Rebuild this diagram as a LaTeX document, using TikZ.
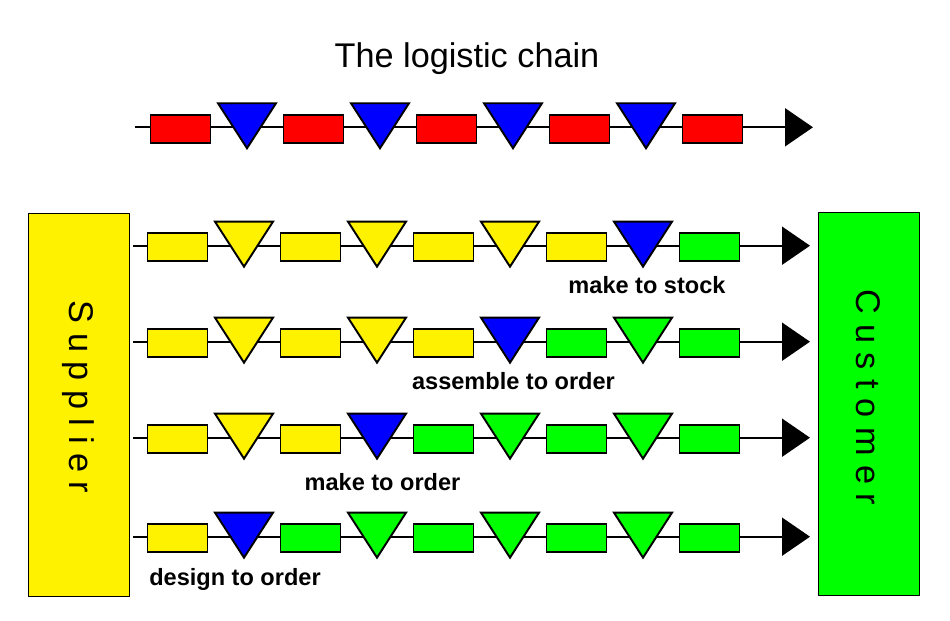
\documentclass[tikz,border=0pt]{standalone}
\usepackage{fontspec}
\setmainfont{Liberation Sans}
\usetikzlibrary{arrows.meta,shapes.geometric}
\tikzset{proc/.style={draw,line width=1.1pt,minimum width=1.2cm,minimum height=.56cm,inner sep=0pt},
 stock/.style={draw,line width=1.1pt,isosceles triangle,isosceles triangle stretches,shape border rotate=270,
  minimum width=1.16cm,minimum height=.9cm,inner sep=0pt,anchor=north},
 wire/.style={line width=1.1pt,-{Triangle[length=.56cm,width=.76cm]}},
 party/.style={draw,line width=.6pt,minimum width=2.02cm,minimum height=7.66cm,inner sep=0pt},
 side/.style={font=\fontsize{19.5}{22}\selectfont,rotate=-90},
 lbl/.style={font=\fontsize{13.4}{16}\selectfont\bfseries}}
\begin{document}
\begin{tikzpicture}[x=.02cm,y=-.02cm]
\useasboundingbox (0,0) rectangle (950,621);
\node[font=\fontsize{19.5}{22}\selectfont] (title) at (467,59) {The logistic chain};
% supplier and customer
\node[party,fill=yellow] (sup) at (78.8,404.6) {};
\node[side] (suptxt) at (78,397) {S u p p l i e r};
\node[party,fill=green] (cus) at (868.6,404) {};
\node[side] (custxt) at (868,397.5) {C u s t o m e r};
% chains: row / line y / first x / start / end / colours
\foreach \key/\y/\xo/\xs/\xe/\cols in {
 0/127.3/180.5/135/813/{red,blue,red,blue,red,blue,red,blue,red},
 1/245.7/177.5/133/810/{yellow,yellow,yellow,yellow,yellow,yellow,yellow,blue,green},
 2/341.7/177.5/133/810/{yellow,yellow,yellow,yellow,yellow,blue,green,green,green},
 3/437.7/177.5/133/810/{yellow,yellow,yellow,blue,green,green,green,green,green},
 4/536.7/177.5/133/810/{yellow,blue,green,green,green,green,green,green,green}}{
 \coordinate (s\key) at (\xs,\y);
 \coordinate (e\key) at (\xe,\y);
 \draw[wire] (s\key) -- (e\key);
 \foreach \c [count=\i from 0] in \cols{
  \pgfmathsetmacro\xx{\xo+66.5*\i}
  \ifodd\i
   \node[stock,fill=\c] (t\key-\i) at (\xx,\y-25) {};
  \else
   \node[proc,fill=\c] (b\key-\i) at (\xx,\y+1.5) {};
  \fi
 }
}
% labels
\node[lbl] (mts) at (647,284.7) {make to stock};
\node[lbl] (ato) at (513.5,381) {assemble to order};
\node[lbl] (mto) at (382.5,481.7) {make to order};
\node[lbl] (dto) at (235,579.5) {design to order};
\end{tikzpicture}
\end{document}
